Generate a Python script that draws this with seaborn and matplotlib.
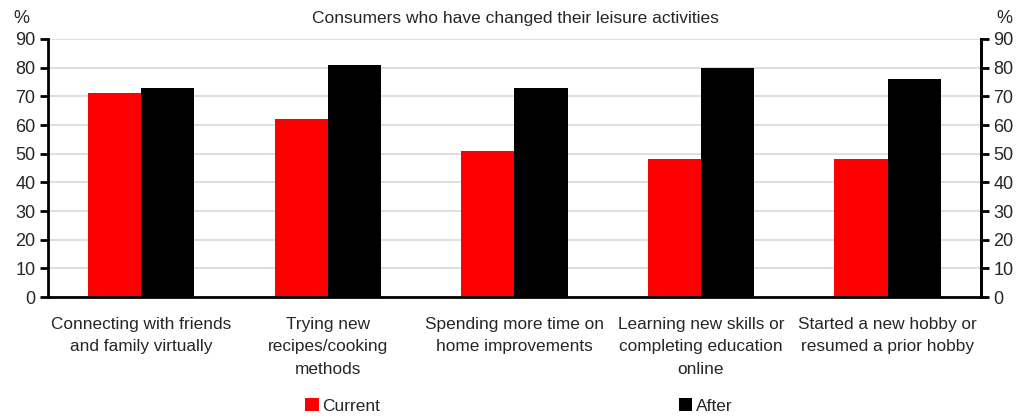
import matplotlib
matplotlib.use("Agg")
import matplotlib.pyplot as plt
import seaborn as sns
import pandas as pd
from matplotlib.patches import Patch

categories = [
    "Connecting with friends\nand family virtually",
    "Trying new\nrecipes/cooking\nmethods",
    "Spending more time on\nhome improvements",
    "Learning new skills or\ncompleting education\nonline",
    "Started a new hobby or\nresumed a prior hobby",
]
current = [71, 62, 51, 48, 48]
after = [73, 81, 73, 80, 76]
series_names = ["Current", "After"]
yticks = [0, 10, 20, 30, 40, 50, 60, 70, 80, 90]

df = pd.DataFrame({
    "category": categories * 2,
    "series": [series_names[0]] * len(categories) + [series_names[1]] * len(categories),
    "value": current + after,
})

sns.set_theme(style="white")
plt.rcParams["font.family"] = ["Liberation Sans", "DejaVu Sans"]

fig = plt.figure(figsize=(10.27, 4.19), dpi=100)
ax = fig.add_axes([0.0467, 0.291, 0.9083, 0.616])

palette = {"Current": "#ff0000", "After": "#000000"}
sns.barplot(data=df, x="category", y="value", hue="series", palette=palette,
            width=0.57, gap=0, saturation=1, ax=ax, legend=False,
            order=categories, hue_order=series_names, edgecolor="none")

ax.set_ylim(0, 90)
ax.set_xlim(-0.5, len(categories) - 0.5)
ax.set_yticks(yticks)
ax.yaxis.grid(True, color="#d9d9d9", linewidth=1.2)
ax.set_axisbelow(True)
ax.set_xlabel("")
ax.set_ylabel("")

# category ticks on group boundaries, labels centred under groups
ax.set_xticks([i for i in range(len(categories))])
ax.set_xticklabels(categories, fontsize=12.4, linespacing=1.65)
ax.tick_params(axis="x", length=0, pad=14)
ax.set_xticks([i - 0.5 for i in range(len(categories) + 1)], minor=True)
ax.tick_params(axis="x", which="minor", direction="out", length=6, width=2, color="black")
ax.tick_params(axis="y", direction="out", length=6, width=2, color="black",
               labelsize=13, pad=3, left=True)

for side in ["left", "bottom", "right"]:
    ax.spines[side].set_visible(True)
    ax.spines[side].set_color("black")
    ax.spines[side].set_linewidth(2)
ax.spines["top"].set_visible(False)

ax2 = ax.twinx()
ax2.set_ylim(0, 90)
ax2.set_yticks(yticks)
ax2.tick_params(axis="y", direction="out", length=6, width=2, color="black",
                labelsize=13, pad=3, right=True)
for side in ["left", "bottom", "top"]:
    ax2.spines[side].set_visible(False)
ax2.spines["right"].set_color("black")
ax2.spines["right"].set_linewidth(2)
ax2.grid(False)

fig.text(0.502, 0.955, "Consumers who have changed their leisure activities",
         ha="center", va="center", fontsize=12.5)
fig.text(0.0205, 0.955, "%", ha="center", va="center", fontsize=13)
fig.text(0.978, 0.955, "%", ha="center", va="center", fontsize=13)

handles = [Patch(facecolor=palette[s], edgecolor="none") for s in series_names]
fig.legend(handles, series_names, loc="center", bbox_to_anchor=(0.505, 0.031),
           ncol=2, frameon=False, fontsize=12.5, handlelength=0.8, handleheight=0.8,
           handletextpad=0.2, columnspacing=17.2)

fig.savefig("out.png", dpi=100)
